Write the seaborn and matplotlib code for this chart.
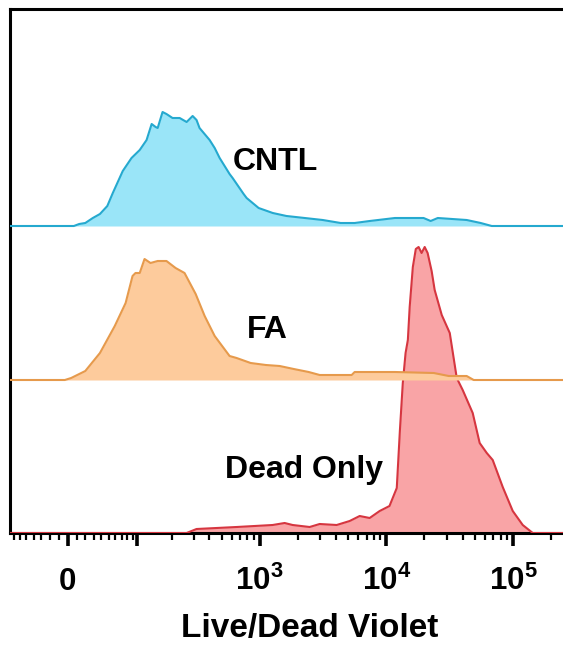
import numpy as np
import pandas as pd
import matplotlib
matplotlib.use("Agg")
import matplotlib.pyplot as plt
import seaborn as sns

# ---- data (fluorescence intensity bins and event counts) ----
cntl_x = [0, 7, 13, 20, 29, 38, 48, 56, 72, 88, 105, 121, 134, 145, 151, 166, 179, 201, 230, 262,
          293, 315, 333, 401, 440, 482, 578, 611, 747, 789, 982, 1270, 1630, 2270, 3150, 4360,
          5630, 7400, 11700, 19700, 22400, 25500, 43100, 55600, 68000]
cntl_y = [0, 0, 2, 3, 8, 12, 20, 33, 55, 68, 76, 86, 102, 99, 98, 114, 112, 108, 108, 104,
          110, 106, 98, 86, 78, 68, 52, 48, 32, 28, 18, 13, 10, 8, 6, 3,
          3, 5, 8, 8, 5, 8, 6, 3, 0]

fa_x = [-3, 4, 20, 38, 59, 77, 90, 96, 105, 116, 131, 151, 179, 213, 252, 310, 366, 440, 578, 657,
        849, 1120, 1440, 1860, 2440, 2980, 3840, 5330, 5630, 11700, 23700, 31100, 43100, 49000]
fa_y = [0, 2, 9, 27, 54, 77, 104, 107, 107, 121, 117, 119, 119, 112, 107, 86, 64, 44, 24, 22,
        17, 15, 14, 11, 8, 5, 5, 5, 8, 8, 7, 4, 4, 0]

dead_x = [262, 315, 657, 1267, 1576, 1823, 2484, 2979, 4059, 5141, 6166, 7395, 8870, 10600, 12100,
          12800, 13500, 14200, 14800, 15300, 16200, 17100, 18000, 19000, 20100, 21200, 22800, 24100,
          27400, 31700, 36000, 40100, 48100, 54600, 62100, 69200, 83000, 99600, 119400, 143200]
dead_y = [0, 4, 6, 8, 10, 8, 6, 9, 8, 12, 17, 15, 22, 27, 45, 102, 150, 180, 193, 226, 266, 284,
          286, 280, 286, 280, 262, 243, 218, 200, 155, 143, 120, 90, 80, 73, 46, 22, 8, 0]

samples = ["Dead Only", "FA", "CNTL"]
tick_values = [0, 100, 1000, 10000, 100000]
tick_labels = [r"$\mathbf{0}$", "", r"$\mathbf{10^3}$", r"$\mathbf{10^4}$", r"$\mathbf{10^5}$"]
x_label = "Live/Dead Violet"

# ---- style ----
sns.set_theme(style="white")
plt.rcParams["font.family"] = ["Liberation Sans", "DejaVu Sans"]
plt.rcParams["font.weight"] = "bold"
plt.rcParams["text.color"] = "black"
plt.rcParams["xtick.color"] = "black"
plt.rcParams["xtick.labelcolor"] = "black"
plt.rcParams["mathtext.fontset"] = "custom"
plt.rcParams["mathtext.rm"] = "Liberation Sans:bold"
plt.rcParams["mathtext.bf"] = "Liberation Sans:bold"
plt.rcParams["mathtext.it"] = "Liberation Sans:bold"

XMIN, XMAX = -77, 262144
offsets = {"Dead Only": 0, "FA": 153, "CNTL": 307}
fills = {"Dead Only": "#F9A4A6", "FA": "#FDCB9C", "CNTL": "#9AE5F8"}
lines = {"Dead Only": "#D63640", "FA": "#E69A4C", "CNTL": "#25A9CF"}
data = {"Dead Only": (dead_x, dead_y), "FA": (fa_x, fa_y), "CNTL": (cntl_x, cntl_y)}

fig = plt.figure(figsize=(5.63, 6.48), dpi=100)
ax = fig.add_axes([9.5 / 563, (648 - 533) / 648, 556.5 / 563, 524.5 / 648])
ax.set_xscale("asinh", linear_width=61)

for i, name in enumerate(samples):
    xs, ys = data[name]
    x = np.concatenate([[XMIN], xs, [XMAX]])
    y = np.concatenate([[0], ys, [0]]) + offsets[name]
    df = pd.DataFrame({"x": x, "y": y})
    ax.fill_between(df["x"], offsets[name], df["y"], color=fills[name], lw=0, zorder=2 + i * 2)
    sns.lineplot(data=df, x="x", y="y", color=lines[name], lw=1.5, sort=False,
                 estimator=None, ax=ax, zorder=3 + i * 2)

ax.set_xlim(XMIN, XMAX)
ax.set_ylim(0, 524.5)
ax.set_yticks([])
ax.set_ylabel("")
ax.set_xlabel("")

minor = ([-v for v in range(10, 80, 10)] + list(range(10, 100, 10)) +
         list(range(200, 1000, 100)) + list(range(2000, 10000, 1000)) +
         list(range(20000, 100000, 10000)) + [200000])
ax.set_xticks(tick_values)
ax.set_xticklabels(tick_labels)
ax.set_xticks(minor, minor=True)
ax.tick_params(axis="x", which="major", direction="out", length=9, width=2.6,
               color="black", labelcolor="black", labelsize=22.5, pad=32, bottom=True)
ax.tick_params(axis="x", which="minor", direction="out", length=5, width=1.6,
               color="black", bottom=True)
for t in ax.xaxis.get_major_ticks():
    t.label1.set_va("baseline")
    t.label1.set_color("black")

for side in ["left", "top", "bottom"]:
    ax.spines[side].set_color("black")
    ax.spines[side].set_linewidth(2.2)
ax.spines["right"].set_visible(False)

ax.text(0.401, 0.692, "CNTL", transform=ax.transAxes, fontsize=23, fontweight="bold",
        va="baseline", ha="left", color="black", zorder=10)
ax.text(0.426, 0.371, "FA", transform=ax.transAxes, fontsize=23, fontweight="bold",
        va="baseline", ha="left", color="black", zorder=10)
ax.text(0.387, 0.105, "Dead Only", transform=ax.transAxes, fontsize=23, fontweight="bold",
        va="baseline", ha="left", color="black", zorder=10)

fig.text(310 / 563, (648 - 637) / 648, x_label, fontsize=24, fontweight="bold",
         ha="center", va="baseline", color="black")

fig.savefig("out.png", dpi=100)
